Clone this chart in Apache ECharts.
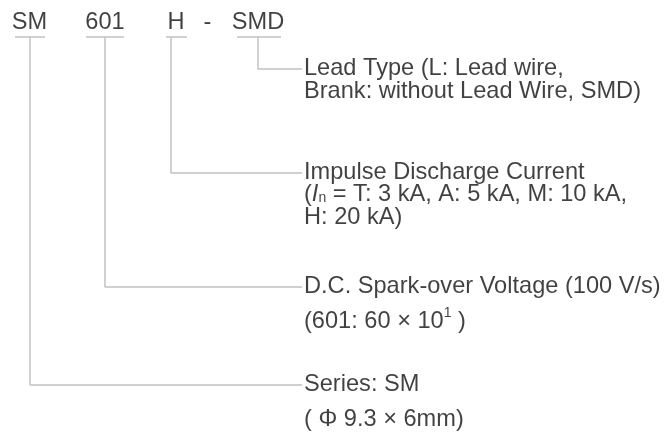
<!DOCTYPE html>
<html>
<head>
<meta charset="utf-8">
<script src="https://cdn.jsdelivr.net/npm/echarts@6/dist/echarts.min.js"></script>
<style>
  html, body { margin: 0; padding: 0; background: #fff; }
  #chart { width: 669px; height: 434px; }
</style>
</head>
<body>
<div id="chart"></div>
<script>
// part number fields, left to right
var codes = ['SM', '601', 'H', '-', 'SMD']
// what each field means (one entry per text line, rich tags for sub/sup)
var descriptions = [
  ['Series: SM', '( \u03a6 9.3 \u00d7 6mm)'],
  ['D.C. Spark-over Voltage (100 V/s)', '(601: 60 \u00d7 10{sup|1} )'],
  ['Impulse Discharge Current', '({it|I}{sub|n} = T: 3 kA, A: 5 kA, M: 10 kA,', 'H: 20 kA)'],
  null,
  ['Lead Type (L: Lead wire,', 'Brank: without Lead Wire, SMD)']
]

// layout (pixels, the grid is mapped 1:1 onto the canvas)
var codeX = [29.5, 105, 176, 207.5, 258]
var underline = [[15, 45], [86, 124], [166, 187], null, [237, 281]]
var leaderX = [30, 105, 171, null, 258]
var leaderY = [385, 287, 173, null, 69]
var lineGap = [35, 35, 22.5, null, 23]
var codeY = 22
var underY = 37
var textX = 304
var leaderEnd = 302

var FONT = '"Liberation Sans", Arial, Helvetica, sans-serif'
var LINE_COLOR = '#c2c2c2'
var TEXT_COLOR = '#111'
var FS = 23.6

var series = []

// field codes on top
series.push({
  type: 'scatter',
  symbolSize: 1,
  itemStyle: { color: 'transparent' },
  data: codes.map(function (c, i) { return { value: [codeX[i], codeY], text: c } }),
  label: {
    show: true,
    position: 'inside',
    align: 'center',
    verticalAlign: 'middle',
    formatter: function (p) { return p.data.text },
    fontSize: FS,
    fontFamily: FONT,
    color: TEXT_COLOR
  }
})

codes.forEach(function (c, i) {
  if (underline[i]) {
    series.push({
      type: 'line',
      symbol: 'none',
      data: [[underline[i][0], underY], [underline[i][1], underY]],
      lineStyle: { color: LINE_COLOR, width: 1.5 }
    })
  }
  if (leaderX[i] != null) {
    series.push({
      type: 'line',
      symbol: 'none',
      data: [[leaderX[i], underY], [leaderX[i], leaderY[i]], [leaderEnd, leaderY[i]]],
      lineStyle: { color: LINE_COLOR, width: 1.5 }
    })
  }
})

// description text, one point per line
var textData = []
descriptions.forEach(function (lines, i) {
  if (!lines) return
  lines.forEach(function (t, k) {
    textData.push({ value: [textX, leaderY[i] - 1 + k * lineGap[i]], text: t })
  })
})

series.push({
  type: 'scatter',
  symbolSize: 1,
  itemStyle: { color: 'transparent' },
  data: textData,
  label: {
    show: true,
    position: 'inside',
    align: 'left',
    verticalAlign: 'middle',
    formatter: function (p) { return p.data.text },
    fontSize: FS,
    lineHeight: 24,
    fontFamily: FONT,
    color: TEXT_COLOR,
    rich: {
      sup: { fontSize: 14, lineHeight: 14, padding: [0, 0, 16, 0], fontFamily: FONT, color: TEXT_COLOR },
      sub: { fontSize: 14, lineHeight: 14, padding: [8, 0, 0, 0], fontFamily: FONT, color: TEXT_COLOR },
      it: { fontSize: FS, lineHeight: 24, fontStyle: 'italic', fontFamily: FONT, color: TEXT_COLOR }
    }
  }
})

var myChart = echarts.init(document.getElementById('chart'))
myChart.setOption({
  animation: false,
  backgroundColor: '#fff',
  grid: { left: 0, right: 0, top: 0, bottom: 0 },
  xAxis: { type: 'value', min: 0, max: 669, show: false },
  yAxis: { type: 'value', min: 0, max: 434, inverse: true, show: false },
  series: series
})
</script>
</body>
</html>
